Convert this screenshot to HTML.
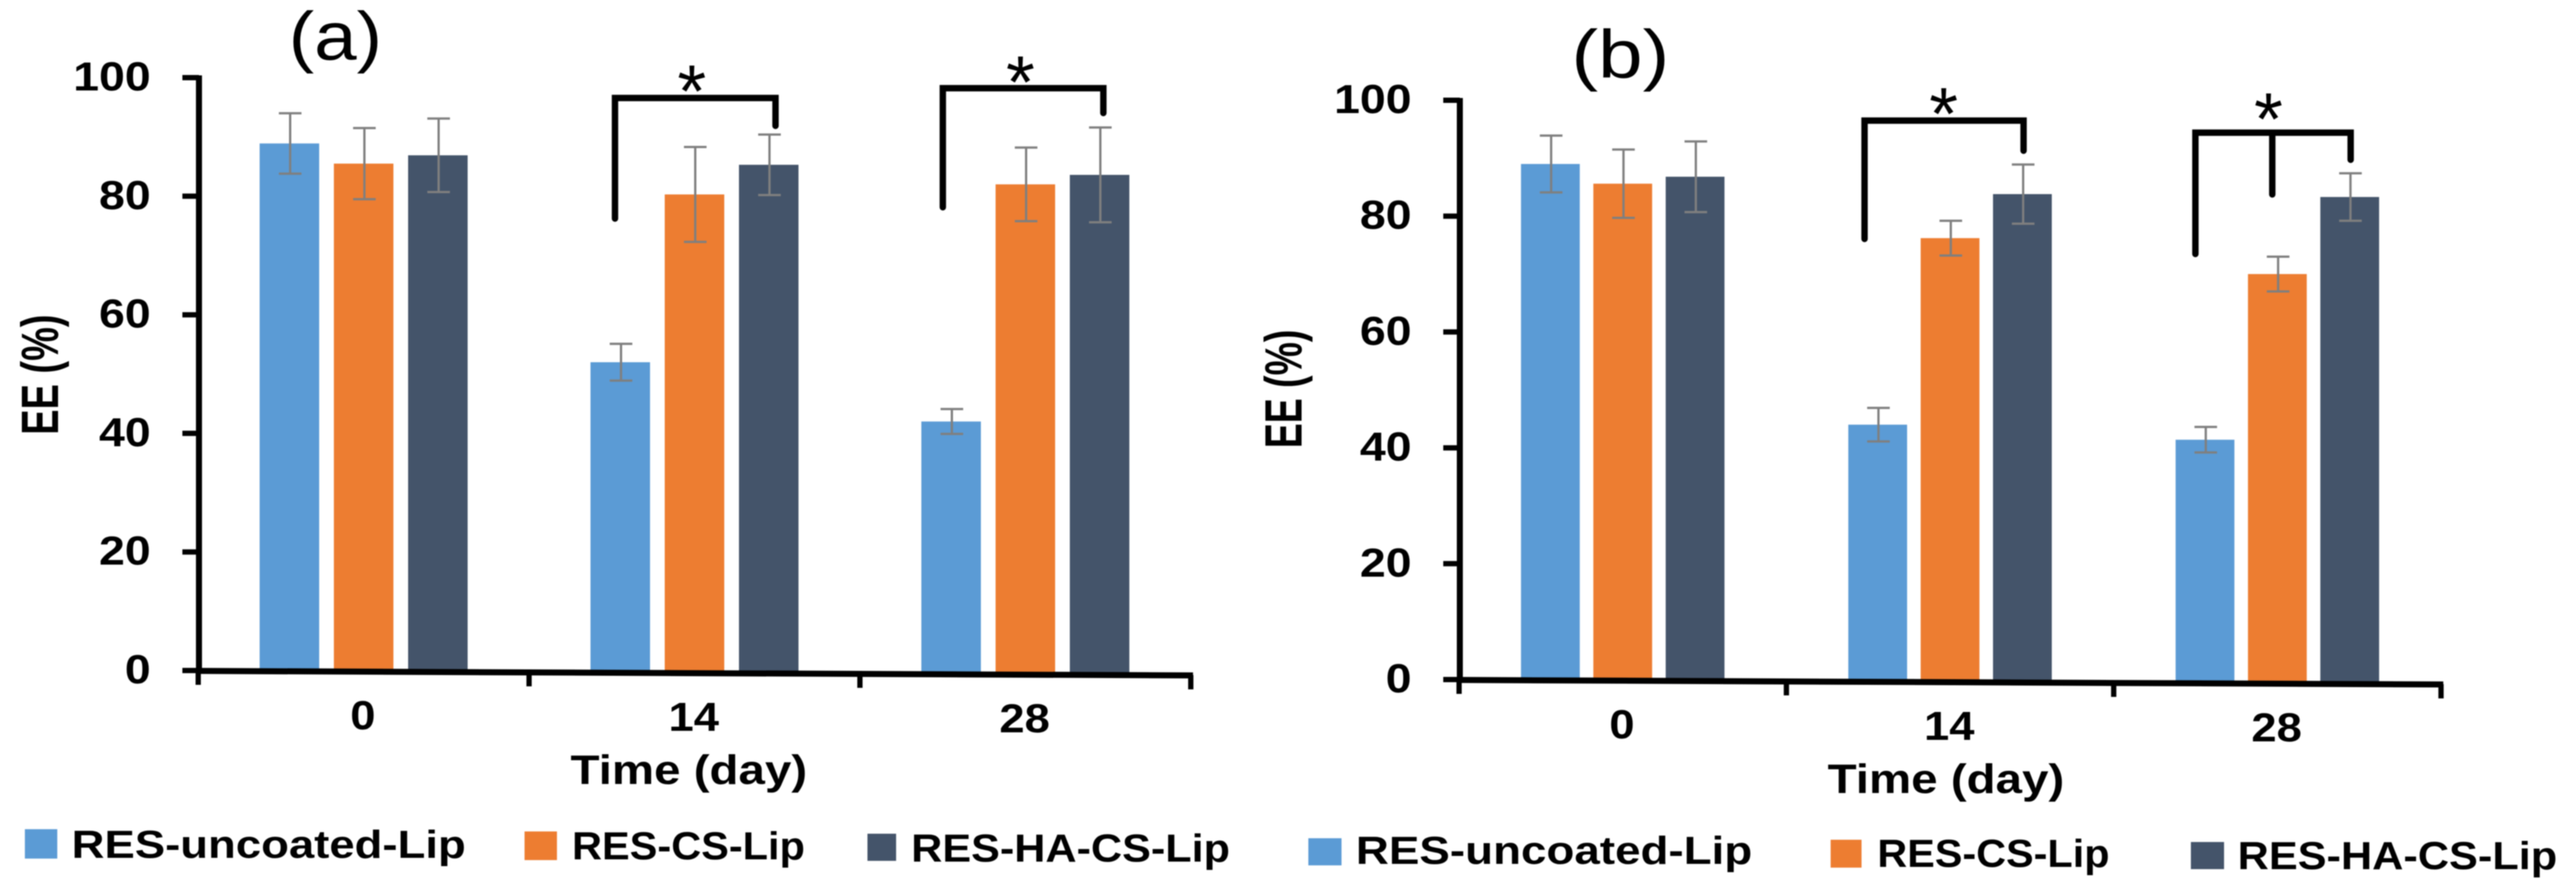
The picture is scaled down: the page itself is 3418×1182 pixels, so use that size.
<!DOCTYPE html>
<html lang="en">
<head>
<meta charset="utf-8">
<title>EE (%) over time</title>
<style>
html,body{margin:0;padding:0;background:#fff;width:3418px;height:1182px;overflow:hidden}
svg{display:block;filter:blur(.9px)}
text{font-family:"Liberation Sans",sans-serif;fill:#000}
.tick{font-weight:700;font-size:54px}
.title{font-weight:700;font-size:55px}
.ytitle{font-weight:700;font-size:70px}
.legend{font-weight:700;font-size:52px}
.panel{font-size:90px}
.star{font-size:98px}
</style>
</head>
<body>
<svg id="chart" xmlns="http://www.w3.org/2000/svg" width="3418" height="1182" viewBox="0 0 3418 1182">
  <rect width="3418" height="1182" fill="#fff"/>
  <g id="panel-a"></g>
  <g id="panel-b"></g>

  <text class="panel" x="383" y="79" textLength="124" lengthAdjust="spacingAndGlyphs">(a)</text>
  <text class="panel" x="2085" y="103" textLength="130" lengthAdjust="spacingAndGlyphs">(b)</text>

  <g fill="none" stroke="#000" stroke-width="8.5" stroke-linejoin="miter" stroke-linecap="round">
    <path d="M816 290V130H1029V167"/>
    <path d="M1251 275V117H1464V150"/>
    <path d="M2474 317V160H2685V200"/>
    <path d="M2913 337V176H3119V212M3015 176V258"/>
  </g>
  <g text-anchor="middle">
    <text class="star" x="918" y="155">*</text>
    <text class="star" x="1354" y="143">*</text>
    <text class="star" x="2579" y="185">*</text>
    <text class="star" x="3010" y="192">*</text>
  </g>

  <g>
    <rect x="33" y="1100" width="43" height="39" fill="#5B9BD5"/>
    <text class="legend" x="95" y="1138" textLength="523" lengthAdjust="spacingAndGlyphs">RES-uncoated-Lip</text>
    <rect x="696" y="1103" width="43" height="38" fill="#ED7D31"/>
    <text class="legend" x="759" y="1140" textLength="309" lengthAdjust="spacingAndGlyphs">RES-CS-Lip</text>
    <rect x="1151" y="1106" width="38" height="36" fill="#44546A"/>
    <text class="legend" x="1209" y="1143" textLength="423" lengthAdjust="spacingAndGlyphs">RES-HA-CS-Lip</text>
  </g>
  <g>
    <rect x="1736" y="1112" width="44" height="36" fill="#5B9BD5"/>
    <text class="legend" x="1799" y="1146" textLength="526" lengthAdjust="spacingAndGlyphs">RES-uncoated-Lip</text>
    <rect x="2429" y="1114" width="41" height="37" fill="#ED7D31"/>
    <text class="legend" x="2491" y="1150" textLength="308" lengthAdjust="spacingAndGlyphs">RES-CS-Lip</text>
    <rect x="2907" y="1117" width="44" height="36" fill="#44546A"/>
    <text class="legend" x="2969" y="1153" textLength="424" lengthAdjust="spacingAndGlyphs">RES-HA-CS-Lip</text>
  </g>
</svg>
<script>
const categories = ['0', '14', '28'];
const yTicks = [0, 20, 40, 60, 80, 100];
const seriesKeys = ['uncoated', 'cs', 'ha-cs'];
const seriesColors = ['#5B9BD5', '#ED7D31', '#44546A'];

const aUncoated = [88.9, 52, 42];
const aCs = [85.5, 80.3, 82];
const aHaCs = [86.9, 85.3, 83.6];
const aUncoatedErr = [5.1, 3.1, 2.1];
const aCsErr = [6, 8, 6.2];
const aHaCsErr = [6.2, 5.1, 8];

const bUncoated = [89, 44, 41.4];
const bCs = [85.6, 76.2, 70];
const bHaCs = [86.8, 83.8, 83.3];
const bUncoatedErr = [4.9, 2.9, 2.2];
const bCsErr = [5.9, 3, 3];
const bHaCsErr = [6.1, 5.1, 4.1];

const NS = 'http://www.w3.org/2000/svg';

function make(parent, tag, attrs, text) {
  const el = document.createElementNS(NS, tag);
  for (const k in attrs) el.setAttribute(k, attrs[k]);
  if (text !== undefined) el.textContent = text;
  parent.appendChild(el);
  return el;
}

function drawPanel(root, p, values, errors) {
  const yScale = v => p.y0 - v * p.unit;
  const axisY = x => p.y0 + p.tilt * (x - p.x0);
  const catX = i => p.x0 + p.band * (i + 0.5);
  const barX = (i, s) => catX(i) + (s - 1) * p.offset;
  const right = p.x0 + p.band * categories.length;

  values.forEach((series, s) => {
    series.forEach((v, i) => {
      const cx = barX(i, s);
      const bar = make(root, 'rect', {
        x: cx - p.barW / 2, y: yScale(v),
        width: p.barW, height: axisY(cx) - yScale(v),
        fill: seriesColors[s]
      });
      
      
    });
  });

  values.forEach((series, s) => {
    series.forEach((v, i) => {
      const cx = barX(i, s) + 1;
      const hi = yScale(v + errors[s][i]);
      const lo = yScale(v - errors[s][i]);
      const d = 'M' + cx + ' ' + hi + 'V' + lo +
        'M' + (cx - 15) + ' ' + hi + 'H' + (cx + 15) +
        'M' + (cx - 15) + ' ' + lo + 'H' + (cx + 15);
      const err = make(root, 'path', { d: d, fill: 'none', stroke: '#7f7f7f', 'stroke-width': 3 });
      
      
    });
  });

  const yAxis = make(root, 'line', { x1: p.x0 + 1, x2: p.x0 + 1, y1: yScale(100) - 3, y2: p.y0 + 3, stroke: '#000', 'stroke-width': 8 });
  
  

  yTicks.forEach(t => {
    const tick = make(root, 'line', { x1: p.x0 - 21, x2: p.x0 + 1, y1: yScale(t), y2: yScale(t), stroke: '#000', 'stroke-width': 7 });
    
    
    const str = String(t);
    const label = make(root, 'text', {
      class: 'tick', x: p.yLabelX, y: yScale(t) + 17, 'text-anchor': 'end',
      textLength: str.length * 34.3, lengthAdjust: 'spacingAndGlyphs'
    }, str);
    
    
  });

  const xAxis = make(root, 'line', { x1: p.x0 - 3, y1: axisY(p.x0) + 0.5, x2: right + 3, y2: axisY(right) + 0.5, stroke: '#000', 'stroke-width': 8 });
  
  

  for (let i = 0; i <= categories.length; i++) {
    const tx = p.x0 + p.band * i;
    const tick = make(root, 'line', { x1: tx, x2: tx, y1: axisY(tx), y2: axisY(tx) + 19, stroke: '#000', 'stroke-width': 7 });
    
    
  }

  categories.forEach((c, i) => {
    const cx = catX(i) - 1;
    const label = make(root, 'text', {
      class: 'tick', x: cx, y: axisY(cx) + 77, 'text-anchor': 'middle',
      textLength: c.length * 33.5, lengthAdjust: 'spacingAndGlyphs'
    }, c);
    
    
  });

  const xTitle = make(root, 'text', { class: 'title', x: p.xTitleX, y: p.xTitleY, 'text-anchor': 'middle', textLength: p.xTitleW, lengthAdjust: 'spacingAndGlyphs' }, 'Time (day)');
  
  

  const yTitle = make(root, 'text', {
    class: 'ytitle', 'text-anchor': 'middle',
    transform: 'translate(' + p.yTitleX + ' ' + p.yTitleY + ') rotate(-90) scale(' + p.yTitleScale + ' 1)'
  }, 'EE (%)');
  
  
}

drawPanel(document.getElementById('panel-a'),
  { x0: 263, y0: 889.5, unit: 7.865, band: 439, offset: 98.5, barW: 79, tilt: 0.00457, yLabelX: 200,
    xTitleX: 914, xTitleY: 1040, xTitleW: 314, yTitleX: 77, yTitleY: 497, yTitleScale: 0.72 },
  [aUncoated, aCs, aHaCs], [aUncoatedErr, aCsErr, aHaCsErr]);

drawPanel(document.getElementById('panel-b'),
  { x0: 1936, y0: 901.5, unit: 7.685, band: 434.3, offset: 96, barW: 78, tilt: 0.00462, yLabelX: 1873,
    xTitleX: 2582, xTitleY: 1052, xTitleW: 314, yTitleX: 1727, yTitleY: 516, yTitleScale: 0.71 },
  [bUncoated, bCs, bHaCs], [bUncoatedErr, bCsErr, bHaCsErr]);
</script>
</body>
</html>
